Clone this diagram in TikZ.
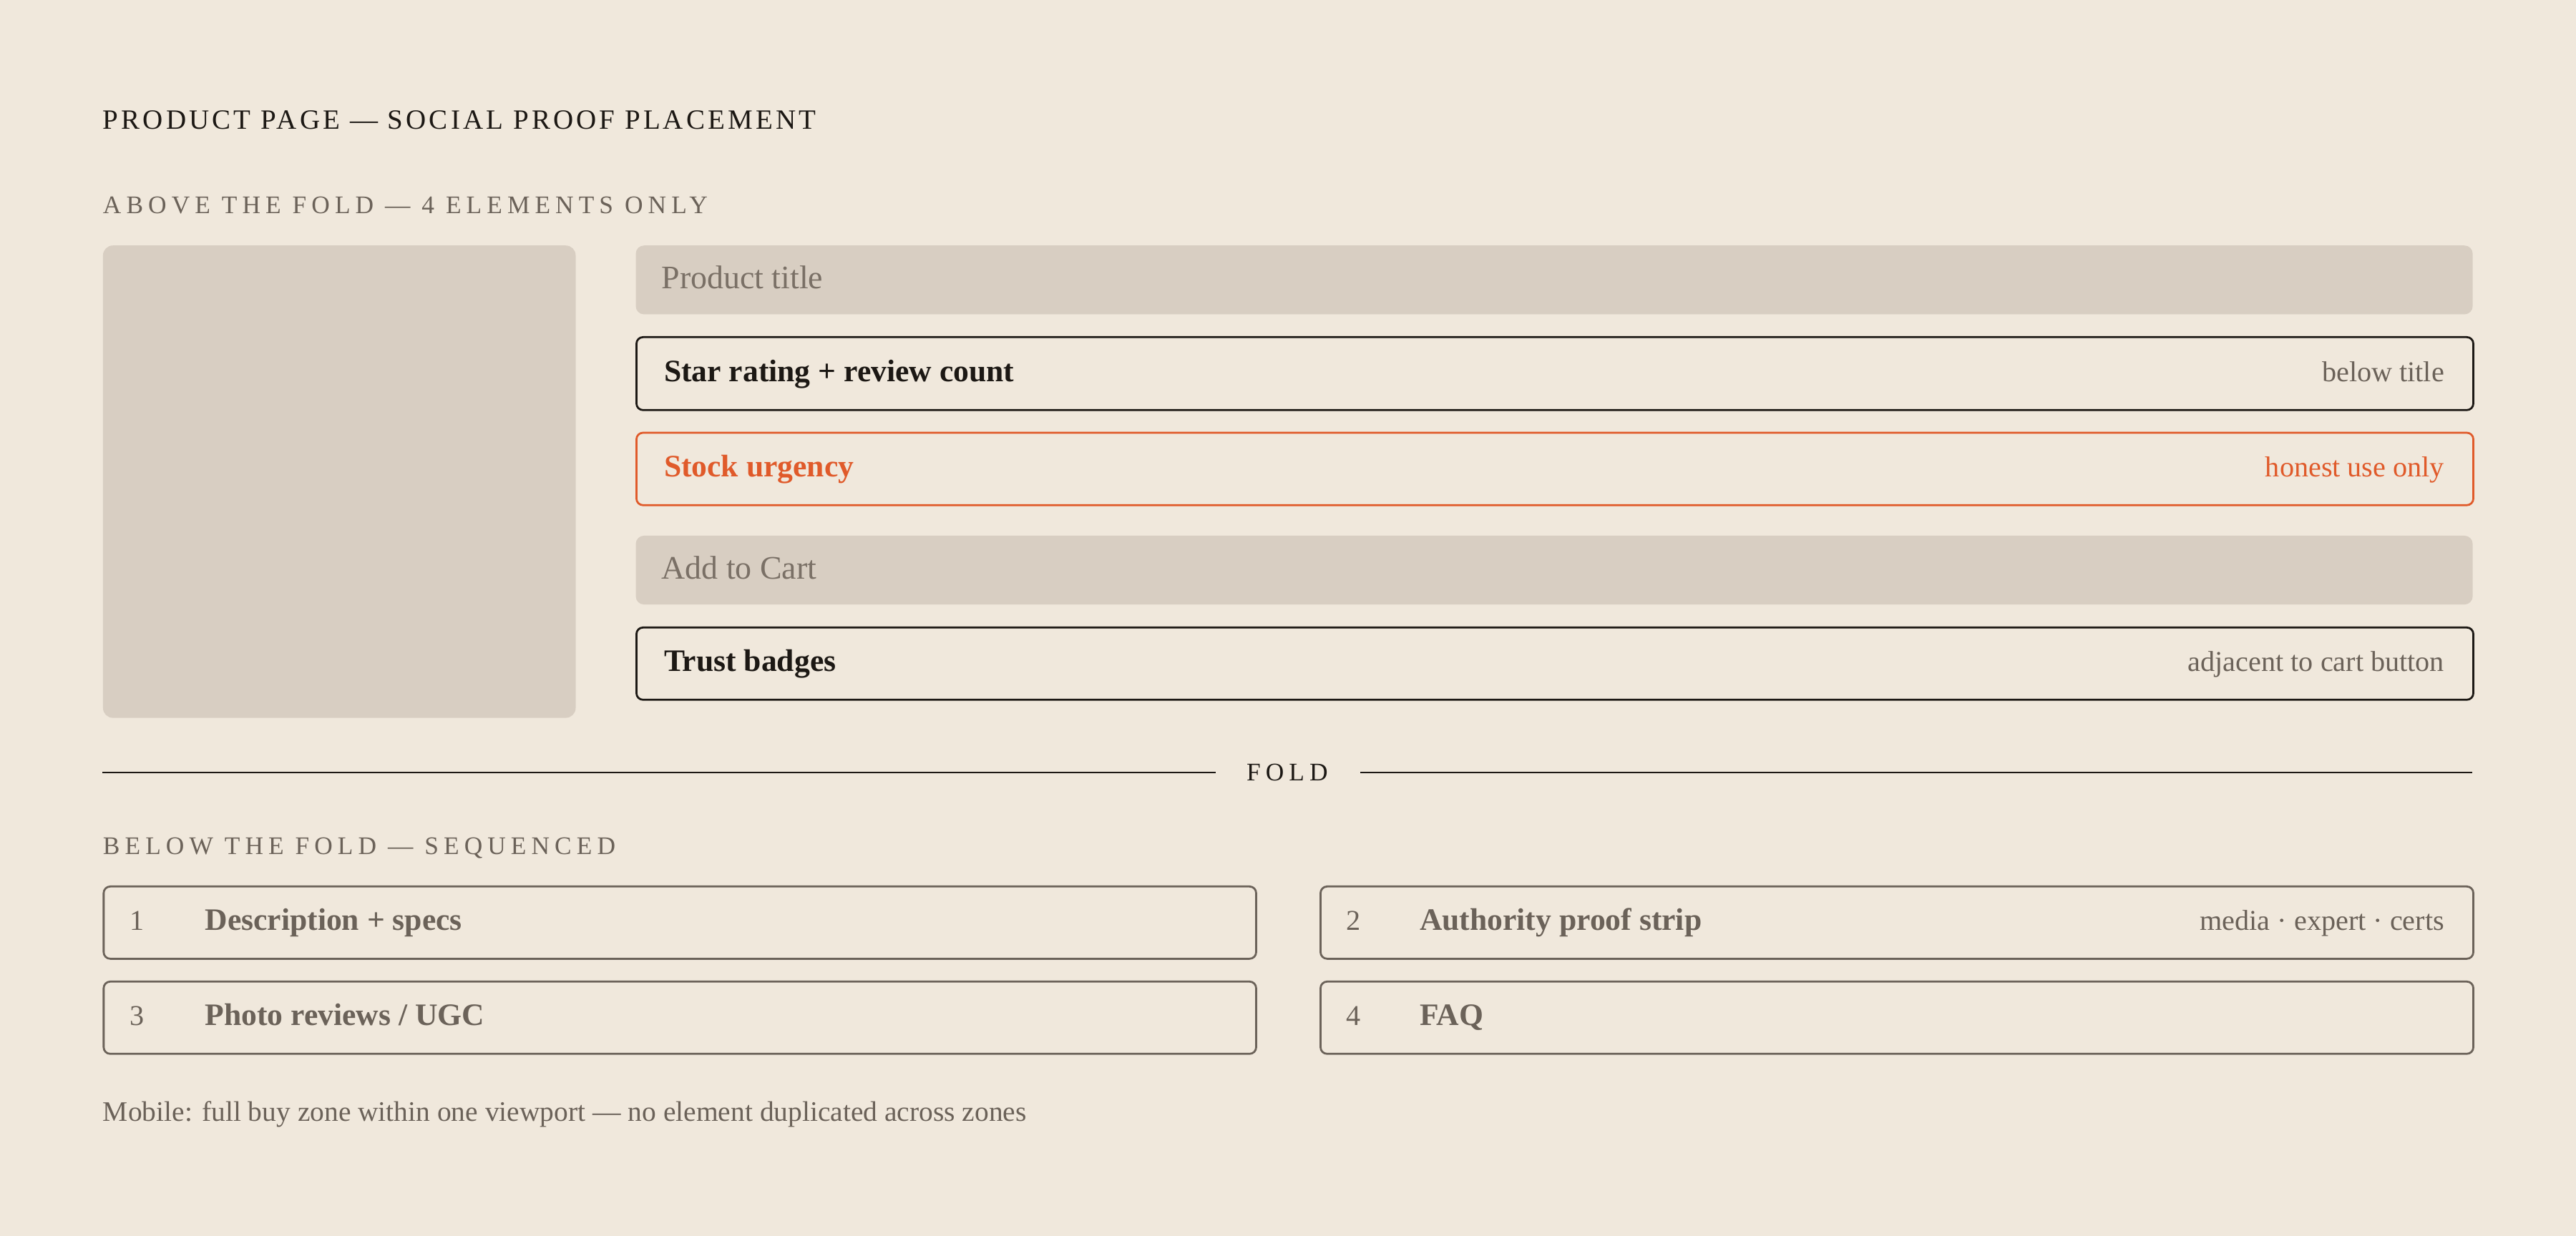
\documentclass[tikz,border=0pt]{standalone}
\usepackage{fontspec}
\setmainfont{Liberation Serif}
\newfontfamily\titlefont[LetterSpace=10.5]{Liberation Serif}
\newfontfamily\subfont[LetterSpace=20]{Liberation Serif}
\definecolor{bg}{RGB}{240,232,220}
\definecolor{ph}{RGB}{216,206,194}
\definecolor{ink}{RGB}{28,24,20}
\definecolor{mute}{RGB}{107,98,89}
\definecolor{phtext}{RGB}{122,112,102}
\definecolor{warn}{RGB}{224,90,42}
\tikzset{
  bar/.style={fill=ph, draw=none, rounded corners=5pt, anchor=north west, inner sep=0pt},
  inkbox/.style={draw=ink, line width=1.2pt, rounded corners=4pt, anchor=north west, inner sep=0pt},
  warnbox/.style={draw=warn, line width=1.2pt, rounded corners=4pt, anchor=north west, inner sep=0pt},
  mutebox/.style={draw=mute, line width=1.2pt, rounded corners=4pt, anchor=north west, inner sep=0pt},
  txt/.style={inner sep=0pt, anchor=base west},
  note/.style={inner sep=0pt, anchor=base east, font=\fontsize{17.5}{20}\selectfont},
  lab/.style={txt, font=\fontsize{19}{22}\selectfont\bfseries},
  phlab/.style={txt, text=phtext, font=\fontsize{20}{24}\selectfont},
  num/.style={txt, text=mute, font=\fontsize{17.5}{20}\selectfont},
  head/.style={txt, text=ink, font=\titlefont\fontsize{17}{20}\selectfont},
  subhead/.style={txt, text=mute, font=\subfont\fontsize{15.4}{18}\selectfont},
  foldline/.style={draw=ink, line width=1.2pt}
}
\begin{document}
\begin{tikzpicture}[x=1pt,y=-1pt]
\fill[bg] (0,0) rectangle (1568,752.6);
\useasboundingbox (0,0) rectangle (1568,752.6);

% headings
\node[head] (title) at (62.5,78.4) {PRODUCT PAGE — SOCIAL PROOF PLACEMENT};
\node[subhead] (above) at (62.5,130.2) {ABOVE THE FOLD — 4 ELEMENTS ONLY};

% image placeholder
\node[bar, rounded corners=6pt, minimum width=287.7pt, minimum height=287.6pt] (img) at (62.5,149.3) {};

% right column
\node[bar, minimum width=1118.1pt, minimum height=41.9pt] (ptitle) at (386.8,149.3) {};
\node[phlab] (ptitletxt) at (402.5,175.6) {Product title};

\node[inkbox, minimum width=1118.1pt, minimum height=44.4pt] (star) at (386.8,204.7) {};
\node[lab, text=ink] (startxt) at (404,232.2) {Star rating + review count};
\node[note, text=mute] (starnote) at (1488,232.2) {below title};

\node[warnbox, minimum width=1118.1pt, minimum height=44.1pt] (stock) at (386.8,262.9) {};
\node[lab, text=warn] (stocktxt) at (404,290.3) {Stock urgency};
\node[note, text=warn] (stocknote) at (1488,290.3) {honest use only};

\node[bar, minimum width=1118.1pt, minimum height=41.9pt] (cart) at (386.8,326) {};
\node[phlab] (carttxt) at (402.5,352.4) {Add to Cart};

\node[inkbox, minimum width=1118.1pt, minimum height=44pt] (trust) at (386.8,381.5) {};
\node[lab, text=ink] (trusttxt) at (404,408.8) {Trust badges};
\node[note, text=mute] (trustnote) at (1488,408.8) {adjacent to cart button};

% fold
\coordinate (foldL) at (62.5,470.4);
\coordinate (foldLe) at (740,470.4);
\coordinate (foldRs) at (828,470.4);
\coordinate (foldR) at (1505,470.4);
\draw[foldline] (foldL) -- (foldLe);
\draw[foldline] (foldRs) -- (foldR);
\node[inner sep=0pt, anchor=base, text=ink, font=\subfont\fontsize{15.4}{18}\selectfont] (fold) at (783.5,475.2) {FOLD};

% below the fold
\node[subhead] (below) at (62.5,520.2) {BELOW THE FOLD — SEQUENCED};

\node[mutebox, minimum width=701.5pt, minimum height=44pt] (b1) at (62.5,539.2) {};
\node[num] (n1) at (79,566.5) {1};
\node[lab, text=mute] (t1) at (124.6,566.5) {Description + specs};

\node[mutebox, minimum width=701.7pt, minimum height=44pt] (b2) at (803.2,539.2) {};
\node[num] (n2) at (819.5,566.5) {2};
\node[lab, text=mute] (t2) at (864,566.5) {Authority proof strip};
\node[note, text=mute] (note2) at (1488,566.5) {media · expert · certs};

\node[mutebox, minimum width=701.5pt, minimum height=44pt] (b3) at (62.5,597.1) {};
\node[num] (n3) at (79,624.4) {3};
\node[lab, text=mute] (t3) at (124.6,624.4) {Photo reviews / UGC};

\node[mutebox, minimum width=701.7pt, minimum height=44pt] (b4) at (803.2,597.1) {};
\node[num] (n4) at (819.5,624.4) {4};
\node[lab, text=mute] (t4) at (864,624.4) {FAQ};

% footer
\node[txt, text=mute, font=\fontsize{17.2}{20}\selectfont] (foot) at (62.5,682.9) {Mobile: full buy zone within one viewport — no element duplicated across zones};
\end{tikzpicture}
\end{document}
